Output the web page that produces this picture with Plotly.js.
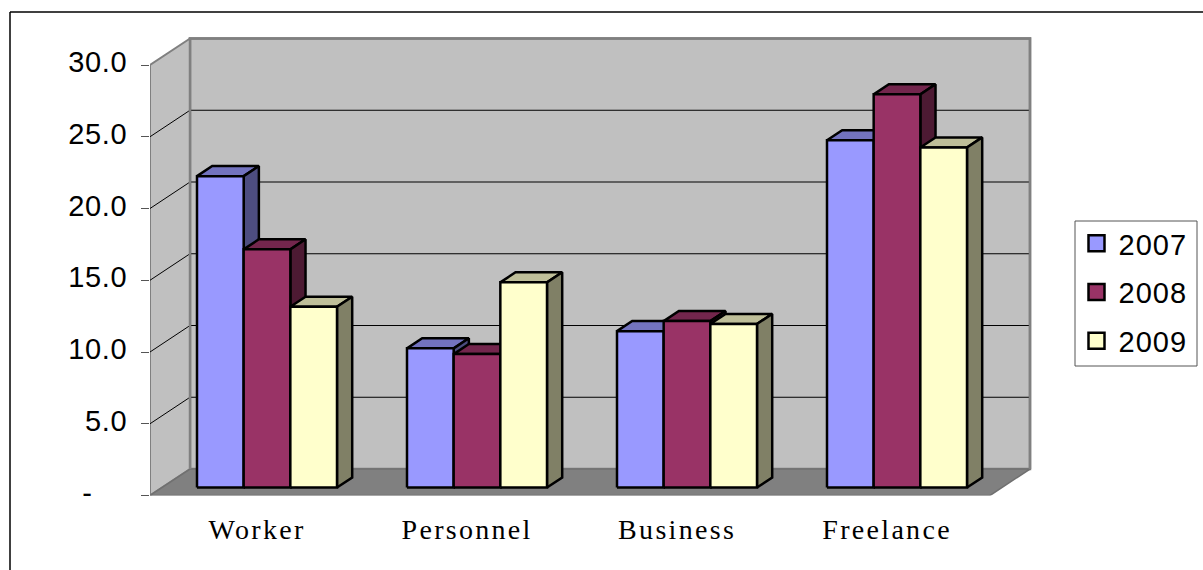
<!DOCTYPE html>
<html>
<head>
<meta charset="utf-8">
<script src="https://cdn.plot.ly/plotly-3.0.1.min.js"></script>
<style>
html, body { margin: 0; padding: 0; background: #fff; overflow: hidden; }
#chart { width: 1203px; height: 570px; }
/* wide-set glyphs on the axis and legend text */
#chart .ytick text { letter-spacing: 0.6px; }
#chart .legendtext { letter-spacing: 1px; }
#chart .xtick text { letter-spacing: 2.3px; }
</style>
</head>
<body>
<div id="chart"></div>
<script>
const categories = ['Worker', 'Personnel', 'Business', 'Freelance'];
const seriesNames = ['2007', '2008', '2009'];
const values2007 = [21.7, 9.7, 10.9, 24.2];
const values2008 = [16.6, 9.3, 11.6, 27.4];
const values2009 = [12.6, 14.3, 11.4, 23.7];
const yTickVals = [0, 5, 10, 15, 20, 25, 30];
const yTickText = ['-\u00a0\u00a0\u00a0\u00a0', '5.0', '10.0', '15.0', '20.0', '25.0', '30.0'];

const frontColors = ['#9999FF', '#993366', '#FFFFCC'];
const topColors = ['#7373BF', '#73264D', '#BFBF99'];
const sideColors = ['#4D4D80', '#4D1A33', '#808066'];

const W = 1203, H = 570;
const X0 = 150, PX_PER_CAT = 210, Y0 = 495.5, PX_PER_UNIT = 14.35;
const PLOT_RIGHT = 1040, PLOT_TOP = 30;

// Oblique projection: how far the back of the floor is shifted, in axis units.
const DEPTH_X = 40 / PX_PER_CAT;
const DEPTH_Y = 26.5 / PX_PER_UNIT;
const BAR_NEAR = 0.3, BAR_FAR = 0.68;   // bar slab as a share of the floor depth
const BAR_W = 2 / 9, CAT_MARGIN = 1 / 6;
const Y_MAX = 30, X_MAX = categories.length;

const back = (x, y, f) => [x + f * DEPTH_X, y + f * DEPTH_Y];

function poly(points, fill, lineColor, lineWidth) {
  return {
    type: 'scatter', mode: 'lines', showlegend: false, hoverinfo: 'skip', cliponaxis: false,
    x: points.map(p => p === null ? null : p[0]),
    y: points.map(p => p === null ? null : p[1]),
    fill: fill ? 'toself' : 'none', fillcolor: fill || undefined,
    line: { color: lineColor, width: lineWidth, shape: 'linear' }
  };
}

const traces = [];

// Walls and floor of the chart box
const wallGrey = '#C0C0C0', edgeGrey = '#808080';
traces.push(poly([back(0, 0, 1), back(X_MAX, 0, 1), back(X_MAX, Y_MAX, 1), back(0, Y_MAX, 1), back(0, 0, 1)], wallGrey, edgeGrey, 2.5));
traces.push(poly([[0, 0], back(0, 0, 1), back(0, Y_MAX, 1), [0, Y_MAX], [0, 0]], wallGrey, edgeGrey, 2));
traces.push(poly([[0, 0], [X_MAX, 0], back(X_MAX, 0, 1), back(0, 0, 1), [0, 0]], edgeGrey, '#707070', 1.5));

// Gridlines run up the side wall and across the back wall
const grid = [];
yTickVals.slice(1, -1).forEach(v => {
  grid.push([0, v], back(0, v, 1), back(X_MAX, v, 1), null);
});
traces.push(poly(grid, null, '#000', 1));

// Redraw the back wall's edges above the gridline ends
traces.push(poly([back(0, 0, 1), back(0, Y_MAX, 1), back(X_MAX, Y_MAX, 1), back(X_MAX, 0, 1)], null, edgeGrey, 2.5));

// Bars, painted series by series so nearer faces overlap correctly
[values2007, values2008, values2009].forEach((vals, s) => {
  const tops = [], sides = [], fronts = [];
  vals.forEach((v, c) => {
    const left = c + CAT_MARGIN + s * BAR_W + BAR_NEAR * DEPTH_X;
    const right = left + BAR_W;
    const base = BAR_NEAR * DEPTH_Y;
    const top = base + v;
    const dF = BAR_FAR - BAR_NEAR;
    tops.push([left, top], [right, top], back(right, top, dF), back(left, top, dF), [left, top], null);
    sides.push([right, base], back(right, base, dF), back(right, top, dF), [right, top], [right, base], null);
    fronts.push([left, base], [right, base], [right, top], [left, top], [left, base], null);
  });
  traces.push(poly(tops, topColors[s], '#000', 2.5));
  traces.push(poly(sides, sideColors[s], '#000', 2.5));
  traces.push(poly(fronts, frontColors[s], '#000', 2.5));
});

// Legend keys
seriesNames.forEach((name, s) => {
  traces.push({
    type: 'scatter', mode: 'markers', name: name, x: [null], y: [null],
    legendgroup: name, hoverinfo: 'skip',
    marker: { symbol: 'square', size: 16, color: frontColors[s], line: { color: '#000', width: 2.5 } }
  });
});

const layout = {
  width: W, height: H,
  margin: { l: 0, r: 0, t: 0, b: 0, pad: 0 },
  paper_bgcolor: '#fff', plot_bgcolor: 'rgba(0,0,0,0)',
  xaxis: {
    domain: [X0 / W, PLOT_RIGHT / W],
    range: [0, (PLOT_RIGHT - X0) / PX_PER_CAT],
    tickmode: 'array',
    tickvals: categories.map((_, i) => i + 0.51),
    ticktext: categories,
    showgrid: false, zeroline: false, showline: false, ticks: '',
    ticklabelstandoff: 14,
    tickfont: { family: '"Liberation Serif", "Times New Roman", serif', size: 28, color: '#000' }
  },
  yaxis: {
    domain: [(H - Y0) / H, (H - PLOT_TOP) / H],
    range: [0, (Y0 - PLOT_TOP) / PX_PER_UNIT],
    tickmode: 'array',
    tickvals: yTickVals, ticktext: yTickText,
    showgrid: false, zeroline: false, showline: false,
    ticks: 'outside', ticklen: 8, tickwidth: 1, tickcolor: '#555',
    ticklabelstandoff: 8, ticklabelshift: -3,
    tickfont: { family: '"Liberation Sans", Arial, sans-serif', size: 29, color: '#000' }
  },
  legend: {
    xref: 'paper', yref: 'paper',
    x: 1074.5 / W, xanchor: 'left',
    y: (H - 218) / H, yanchor: 'top',
    bgcolor: 'rgba(0,0,0,0)', borderwidth: 0,
    font: { family: '"Liberation Sans", Arial, sans-serif', size: 29, color: '#000' },
    traceorder: 'grouped', tracegroupgap: 8, itemsizing: 'trace', itemwidth: 34
  },
  shapes: [
    { type: 'line', xref: 'paper', yref: 'paper', x0: 10 / W, x1: 1, y0: (H - 12) / H, y1: (H - 12) / H, line: { color: '#000', width: 1.5 } },
    { type: 'line', xref: 'paper', yref: 'paper', x0: 10 / W, x1: 10 / W, y0: 0, y1: (H - 12) / H, line: { color: '#000', width: 1.5 } },
    // Frame around the legend
    { type: 'rect', xref: 'paper', yref: 'paper', x0: 1075 / W, x1: 1197 / W, y0: (H - 366) / H, y1: (H - 221) / H, line: { color: '#555', width: 1 } }
  ]
};

Plotly.newPlot('chart', traces, layout, { displayModeBar: false, staticPlot: true });
</script>
</body>
</html>
